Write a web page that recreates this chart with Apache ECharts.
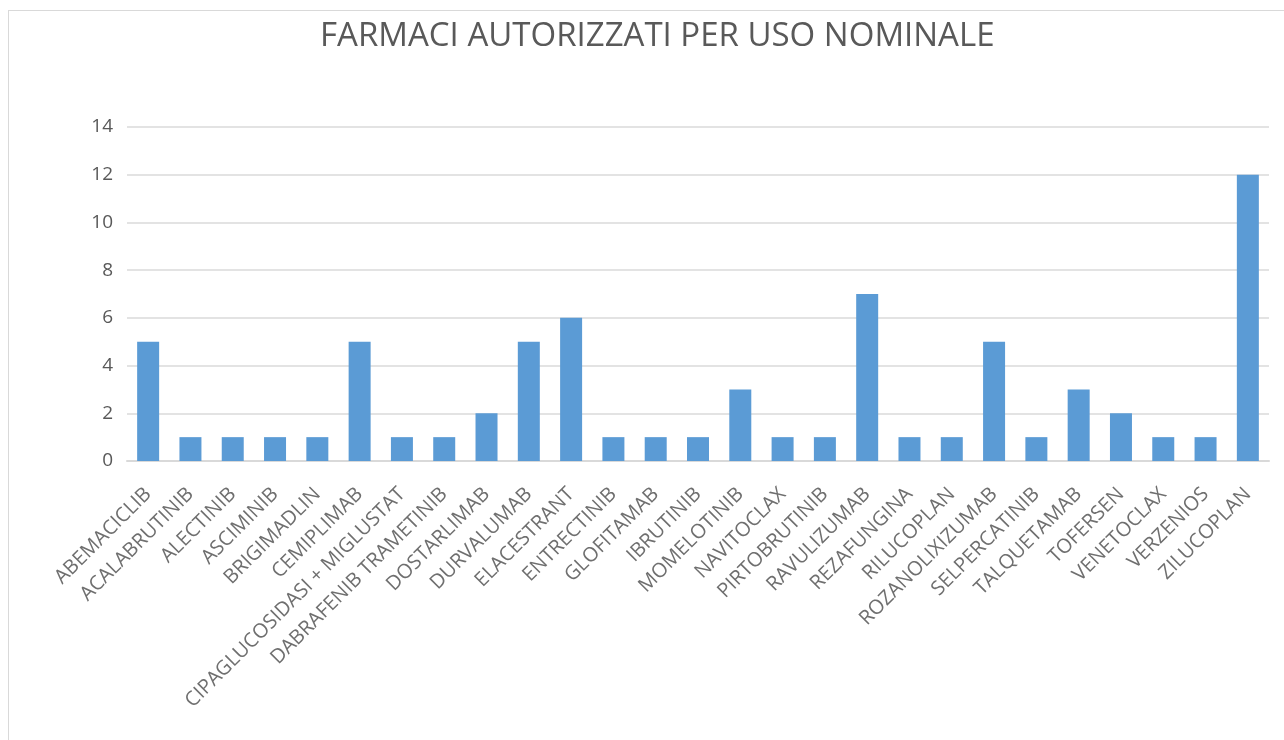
<!DOCTYPE html>
<html>
<head>
<meta charset="utf-8">
<script src="https://cdn.jsdelivr.net/npm/echarts@6/dist/echarts.min.js"></script>
<style>
  html, body { margin: 0; padding: 0; background: #fff; }
  #frame { position: absolute; left: 8px; top: 10px; width: 1290px; height: 740px; border: 1px solid #d9d9d9; }
  #chart { position: absolute; left: 0; top: 0; width: 1284px; height: 740px; }
</style>
</head>
<body>
<div id="frame"></div>
<div id="chart"></div>
<script>
const titleText = 'FARMACI AUTORIZZATI PER USO NOMINALE'
const drugs = [
  'ABEMACICLIB', 'ACALABRUTINIB', 'ALECTINIB', 'ASCIMINIB', 'BRIGIMADLIN',
  'CEMIPLIMAB', 'CIPAGLUCOSIDASI + MIGLUSTAT', 'DABRAFENIB TRAMETINIB', 'DOSTARLIMAB', 'DURVALUMAB',
  'ELACESTRANT', 'ENTRECTINIB', 'GLOFITAMAB', 'IBRUTINIB', 'MOMELOTINIB',
  'NAVITOCLAX', 'PIRTOBRUTINIB', 'RAVULIZUMAB', 'REZAFUNGINA', 'RILUCOPLAN',
  'ROZANOLIXIZUMAB', 'SELPERCATINIB', 'TALQUETAMAB', 'TOFERSEN', 'VENETOCLAX',
  'VERZENIOS', 'ZILUCOPLAN'
]
const counts = [5, 1, 1, 1, 1, 5, 1, 1, 2, 5, 6, 1, 1, 1, 3, 1, 1, 7, 1, 1, 5, 1, 3, 2, 1, 1, 12]
const yTicks = { min: 0, max: 14, interval: 2 }

const chart = echarts.init(document.getElementById('chart'))
chart.setOption({
  animation: false,
  textStyle: { fontFamily: 'Open Sans' },
  title: {
    text: titleText,
    left: 315,
    top: 15,
    textStyle: { fontFamily: 'Open Sans', fontSize: 33, fontWeight: 'normal', color: '#595959' }
  },
  grid: { left: 127, right: 15, top: 127, bottom: 279 },
  xAxis: {
    type: 'category',
    data: drugs,
    axisLine: { show: true, lineStyle: { color: '#d9d9d9', width: 2 } },
    axisTick: { show: false },
    axisLabel: { interval: 0, rotate: 45, fontSize: 20, color: '#6f6f6f', margin: 30 }
  },
  yAxis: {
    type: 'value',
    min: yTicks.min,
    max: yTicks.max,
    interval: yTicks.interval,
    axisLine: { show: false },
    axisTick: { show: false },
    axisLabel: { fontSize: 19, color: '#595959', margin: 14 },
    splitLine: { lineStyle: { color: '#e3e3e3', width: 2 } }
  },
  series: [{
    type: 'bar',
    data: counts,
    barWidth: 22,
    itemStyle: { color: '#5b9bd5' }
  }]
})
</script>
</body>
</html>
